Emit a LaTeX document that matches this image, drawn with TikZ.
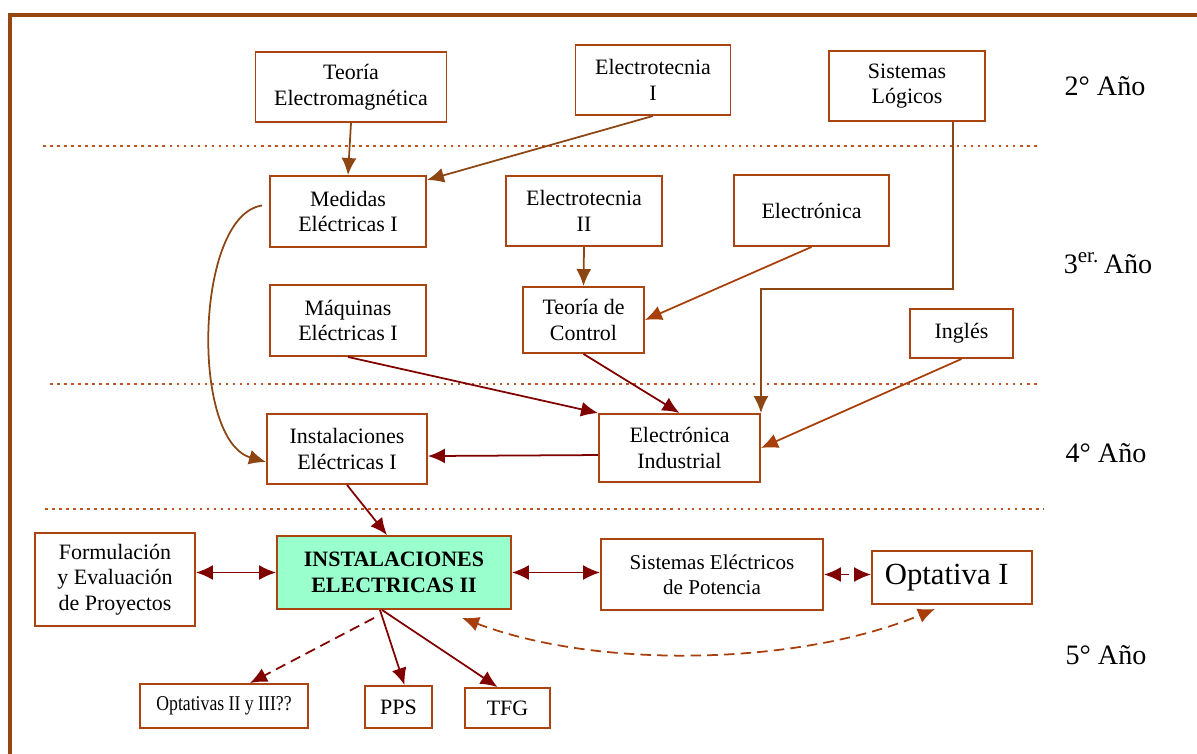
\documentclass[tikz,border=0pt]{standalone}
\usepackage{fontspec}
\setmainfont{Liberation Serif}
\usetikzlibrary{arrows.meta}
\definecolor{marco}{RGB}{150,70,15}
\definecolor{borde}{RGB}{170,68,17}
\definecolor{cafe}{RGB}{140,70,20}
\definecolor{naranja}{RGB}{168,62,10}
\definecolor{granate}{RGB}{128,0,0}
\definecolor{verde}{RGB}{153,255,204}
\definecolor{puntos}{RGB}{190,85,35}
\begin{document}
\begin{tikzpicture}[x=0.02cm,y=-0.02cm,
  caja/.style={draw=borde,line width=1.1pt,align=center,inner sep=2pt,font=\fontsize{12.5}{14.5}\selectfont},
  anio/.style={font=\fontsize{16}{18}\selectfont},
  flecha/.style={->,line width=1pt},
  rayas/.style={dash pattern=on 6pt off 3.5pt},
  division/.style={puntos,line width=1.5pt,dash pattern=on 1.5pt off 2.5pt},
  >={Latex[length=3.4mm,width=3mm]}]
\useasboundingbox (0,0) rectangle (1197,754);
\clip (0,0) rectangle (1197,754);
\draw [marco,line width=1.8pt] (10,770) -- (10,15) -- (1220,15);
% divisiones entre años
\draw [division] (43,146) -- (1037,146);
\draw [division] (50,384) -- (1040,384);
\draw [division] (45,509) -- (1043,509);
% años
\node [anio] (a2) at (1105,86) {2° Año};
\node [anio] (a3) at (1108,263) {3\textsuperscript{\fontsize{12}{12}\selectfont er.}\,Año};
\node [anio] (a4) at (1106,453) {4° Año};
\node [anio] (a5) at (1106,655) {5° Año};
% 2do año
\node [caja,minimum width=3.82cm,minimum height=1.4cm] (teoem) at (351,87) {Teoría\\Electromagnética};
\node [caja,minimum width=3.1cm,minimum height=1.4cm] (elec1) at (653,80) {Electrotecnia\\I};
\node [caja,minimum width=3.12cm,minimum height=1.4cm] (sislog) at (907,86) {Sistemas\\Lógicos};
% 3er año
\node [caja,minimum width=3.12cm,minimum height=1.42cm] (medidas) at (348,211.5) {Medidas\\Eléctricas I};
\node [caja,minimum width=3.12cm,minimum height=1.4cm] (elec2) at (584,211) {Electrotecnia\\II};
\node [caja,minimum width=3.1cm,minimum height=1.42cm] (electronica) at (811.5,210.5) {Electrónica};
\node [caja,minimum width=3.12cm,minimum height=1.42cm] (maquinas) at (348,320.5) {Máquinas\\Eléctricas I};
\node [caja,minimum width=2.42cm,minimum height=1.32cm] (control) at (583.5,320) {Teoría de\\Control};
\node [caja,minimum width=2.06cm,minimum height=0.98cm] (ingles) at (961.5,333.5) {Inglés};
% 4to año
\node [caja,minimum width=3.2cm,minimum height=1.4cm] (inst1) at (347,449) {Instalaciones\\Eléctricas I};
\node [caja,minimum width=3.22cm,minimum height=1.36cm] (elind) at (679.5,448) {Electrónica\\Industrial};
% 5to año
\node [caja,minimum width=3.2cm,minimum height=1.86cm] (formul) at (115,579.5) {Formulación\\y Evaluación\\de Proyectos};
\node [caja,fill=verde,minimum width=4.68cm,minimum height=1.46cm,font=\fontsize{12.5}{14.5}\selectfont\bfseries] (inst2) at (394,572.5) {INSTALACIONES\\ELECTRICAS II};
\node [caja,minimum width=4.44cm,minimum height=1.42cm,font=\fontsize{12}{14}\selectfont] (sep) at (712,574.5) {Sistemas Eléctricos\\de Potencia};
\node [caja,minimum width=3.2cm,minimum height=1.06cm,font=\fontsize{17.5}{19}\selectfont] (opt1) at (952,577.5) {Optativa I\hspace{6pt}};
\node [caja,minimum width=3.36cm,minimum height=0.88cm,font=\fontsize{12}{14}\selectfont] (opt23) at (224,706) {\scalebox{0.84}[1]{Optativas II y III??}};
\node [caja,minimum width=1.34cm,minimum height=0.84cm,font=\fontsize{12.5}{14}\selectfont] (pps) at (398.5,707) {PPS};
\node [caja,minimum width=1.7cm,minimum height=0.8cm,font=\fontsize{12.5}{14}\selectfont] (tfg) at (507.5,708) {TFG};
% correlativas
\draw [flecha,cafe] (teoem.south) -- (medidas.north);
\draw [flecha,cafe] (elec1.south) -- ([shift={(0,5)}]medidas.north east);
\draw [flecha,cafe] ([shift={(46,0)}]sislog.south) -- ++(0,167) -| (elind.north east);
\draw [flecha,cafe] (elec2.south) -- (control.north);
\draw [flecha,naranja] (electronica.south) -- (control.east);
\draw [flecha,granate] (maquinas.south) -- (elind.north west);
\draw [flecha,granate] (control.south) -- (elind.north);
\draw [flecha,naranja] (ingles.south) -- (elind.east);
\draw [flecha,cafe] ([shift={(-7,-6)}]medidas.west) .. controls (195,215) and (190,440) .. ([shift={(0,13)}]inst1.west);
\draw [flecha,granate] ([yshift=-4pt]elind.west) -- ([yshift=-4pt]inst1.east);
\draw [flecha,granate] (inst1.south) -- ([shift={(-7,0)}]inst2.north);
\draw [flecha,granate,<->] (formul.east |- inst2.west) -- (inst2.west);
\draw [flecha,granate,<->] (inst2.east) -- (inst2.east -| sep.west);
\draw [flecha,granate,<->,dash pattern=on 5pt off 3pt] (sep.east) -- (sep.east -| opt1.west);
\draw [flecha,naranja,<->,rayas] ([shift={(68,8)}]inst2.south) .. controls (600,670) and (800,665) .. ([shift={(-17,4)}]opt1.south);
\draw [flecha,granate,rayas] ([shift={(-20,8)}]inst2.south) -- ([shift={(26,0)}]opt23.north);
\draw [flecha,granate] ([shift={(-14,0)}]inst2.south) -- ([shift={(6,0)}]pps.north);
\draw [flecha,granate] ([shift={(-12,0)}]inst2.south) -- ([shift={(-10,0)}]tfg.north);
\end{tikzpicture}
\end{document}
